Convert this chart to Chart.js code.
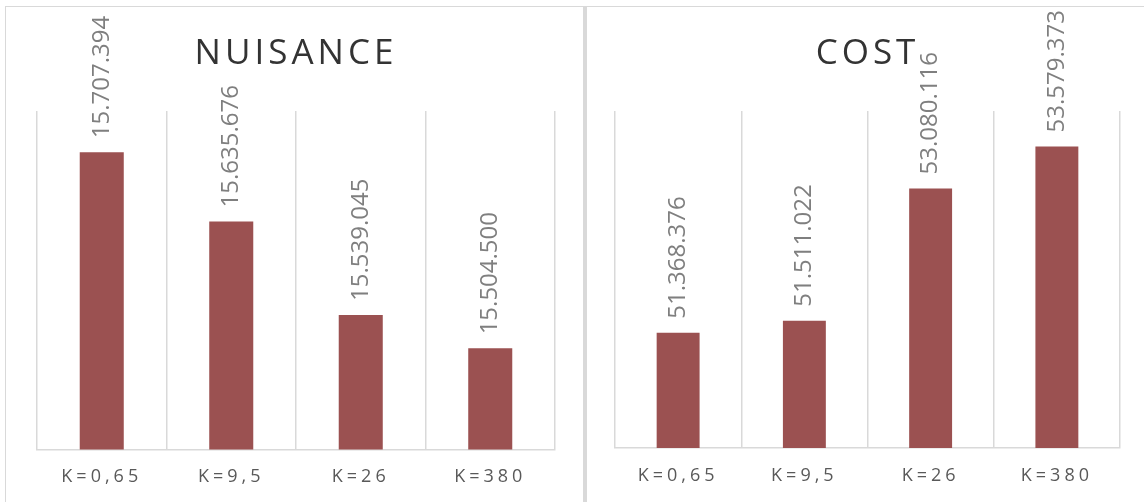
<!DOCTYPE html>
<html>
<head>
<meta charset="utf-8">
<script src="https://cdn.jsdelivr.net/npm/chart.js@4/dist/chart.umd.min.js"></script>
<style>
  body { margin: 0; background: #fff; width: 1144px; height: 502px; overflow: hidden; position: relative; }
  .panel { position: absolute; top: 6px; height: 520px; box-sizing: border-box; border: 1px solid #d9d9d9; }
  #leftPanel { left: 5px; width: 580px; border-right-width: 2px; }
  #rightPanel { left: 585px; width: 580px; border-left-width: 2px; }
  canvas { display: block; }
</style>
</head>
<body>
<div class="panel" id="leftPanel"><canvas id="nuisanceChart" width="577" height="495"></canvas></div>
<div class="panel" id="rightPanel"><canvas id="costChart" width="557" height="495"></canvas></div>
<script>
const categories = ['K=0,65', 'K=9,5', 'K=26', 'K=380'];
const nuisanceValues = [15707394, 15635676, 15539045, 15504500];
const costValues = [51368376, 51511022, 53080116, 53579373];

const barColor = '#9b5151';
const gridColor = '#d9d9d9';

Chart.defaults.font.family = "'Open Sans', sans-serif";

function formatNumber(v) {
  return String(v).replace(/\B(?=(\d{3})+(?!\d))/g, '.');
}

// title and tick labels are spaced out, the value labels are not
const spacingPlugin = {
  id: 'spacing',
  beforeDraw(chart) {
    chart.ctx.letterSpacing = '4px';
  },
  afterDatasetsDraw(chart) {
    const ctx = chart.ctx;
    ctx.save();
    ctx.letterSpacing = '0px';
    ctx.font = "24px 'Open Sans', sans-serif";
    ctx.fillStyle = '#7f7f7f';
    ctx.textAlign = 'left';
    ctx.textBaseline = 'middle';
    const data = chart.data.datasets[0].data;
    chart.getDatasetMeta(0).data.forEach((bar, i) => {
      ctx.save();
      ctx.translate(bar.x, bar.y - 14);
      ctx.rotate(-Math.PI / 2);
      ctx.fillText(formatNumber(data[i]), 0, 0);
      ctx.restore();
    });
    ctx.restore();
  },
  afterDraw(chart) {
    chart.ctx.letterSpacing = '0px';
  }
};

function makeChart(id, title, values, yMin, yMax, padding) {
  const ctx = document.getElementById(id).getContext('2d');
  return new Chart(ctx, {
    type: 'bar',
    data: {
      labels: categories,
      datasets: [{
        data: values,
        backgroundColor: barColor,
        barPercentage: 0.34,
        categoryPercentage: 1
      }]
    },
    options: {
      responsive: false,
      animation: false,
      layout: { padding },
      plugins: {
        legend: { display: false },
        tooltip: { enabled: false },
        title: {
          display: true,
          text: title,
          color: '#333333',
          font: { size: 35, weight: 'normal', lineHeight: 1.2 },
          padding: { top: 26, bottom: 36 }
        }
      },
      scales: {
        x: {
          grid: { color: gridColor, lineWidth: 1.5, drawTicks: false, offset: true },
          border: { color: gridColor, width: 1.5 },
          ticks: {
            color: '#595959',
            font: { size: 18, lineHeight: 1.2 },
            padding: 17,
            maxRotation: 0,
            autoSkip: false
          }
        },
        y: {
          display: false,
          min: yMin,
          max: yMax
        }
      }
    },
    plugins: [spacingPlugin]
  });
}

makeChart('nuisanceChart', 'NUISANCE', nuisanceValues, 15400000, 15750000,
  { left: 31, right: 28, top: 0, bottom: -3 });
makeChart('costChart', 'COST', costValues, 50000000, 54000000,
  { left: 28, right: 24, top: 0, bottom: -1.5 });
</script>
</body>
</html>
